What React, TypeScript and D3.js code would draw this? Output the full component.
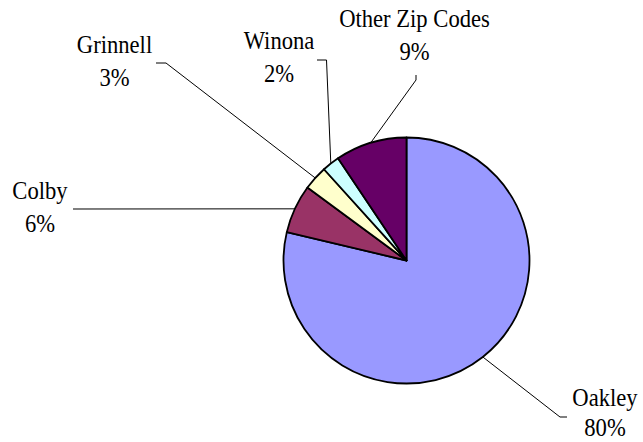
import React from "react";
import * as d3 from "d3";

const categories = ["Oakley", "Colby", "Grinnell", "Winona", "Other Zip Codes"];
const values = [78.7, 6.4, 3.2, 2.3, 9.4];
const percentLabels = ["80%", "6%", "3%", "2%", "9%"];
const colors = ["#9999FF", "#993366", "#FFFFCC", "#CCFFFF", "#660066"];

// label layout (manually placed, as in the original chart)
const labelPos = [
  { x: 605, y: 406, line: 30, leader: [[560, 417], [567, 417]] },
  { x: 40, y: 199, line: 32.5, leader: [[73, 209]] },
  { x: 114.5, y: 53, line: 32.5, leader: [[166, 63], [156, 63]] },
  { x: 279, y: 48.5, line: 33, leader: [[326.5, 60], [317, 60]] },
  { x: 414.5, y: 27, line: 33, leader: [[416, 80], [416, 75]] },
];

const W = 643;
const H = 442;
const CX = 406.5;
const CY = 260.5;
const R = 123;
const FS = 26;
const SX = 0.87;

export default function App() {
  const pie = d3.pie<number>().sort(null).startAngle(0).endAngle(2 * Math.PI);
  const arcs = pie(values);
  const arc = d3.arc<d3.PieArcDatum<number>>().innerRadius(0).outerRadius(R);

  return (
    <svg
      width={W}
      height={H}
      style={{ position: "absolute", left: 0, top: 0, background: "#fff" }}
    >
      <g transform={`translate(${CX},${CY})`}>
        {arcs.map((a, i) => (
          <path
            key={i}
            d={arc(a) || ""}
            fill={colors[i]}
            stroke="#000"
            strokeWidth={1.8}
            strokeLinejoin="round"
          />
        ))}
      </g>
      {arcs.map((a, i) => {
        const mid = (a.startAngle + a.endAngle) / 2;
        const sx = CX + R * Math.sin(mid);
        const sy = CY - R * Math.cos(mid);
        const pts = [[sx, sy], ...labelPos[i].leader];
        const line = d3.line()(pts as [number, number][]);
        return (
          <path key={"l" + i} d={line || ""} fill="none" stroke="#000" strokeWidth={1} />
        );
      })}
      {categories.map((c, i) => (
        <g
          key={"t" + i}
          fontFamily="'Liberation Serif', 'Times New Roman', serif"
          fontSize={FS}
          fill="#000"
          textAnchor="middle"
        >
          <text transform={`translate(${labelPos[i].x},${labelPos[i].y}) scale(${SX},1)`}>{c}</text>
          <text
            transform={`translate(${labelPos[i].x},${labelPos[i].y + labelPos[i].line}) scale(${SX},1)`}
          >
            {percentLabels[i]}
          </text>
        </g>
      ))}
    </svg>
  );
}
